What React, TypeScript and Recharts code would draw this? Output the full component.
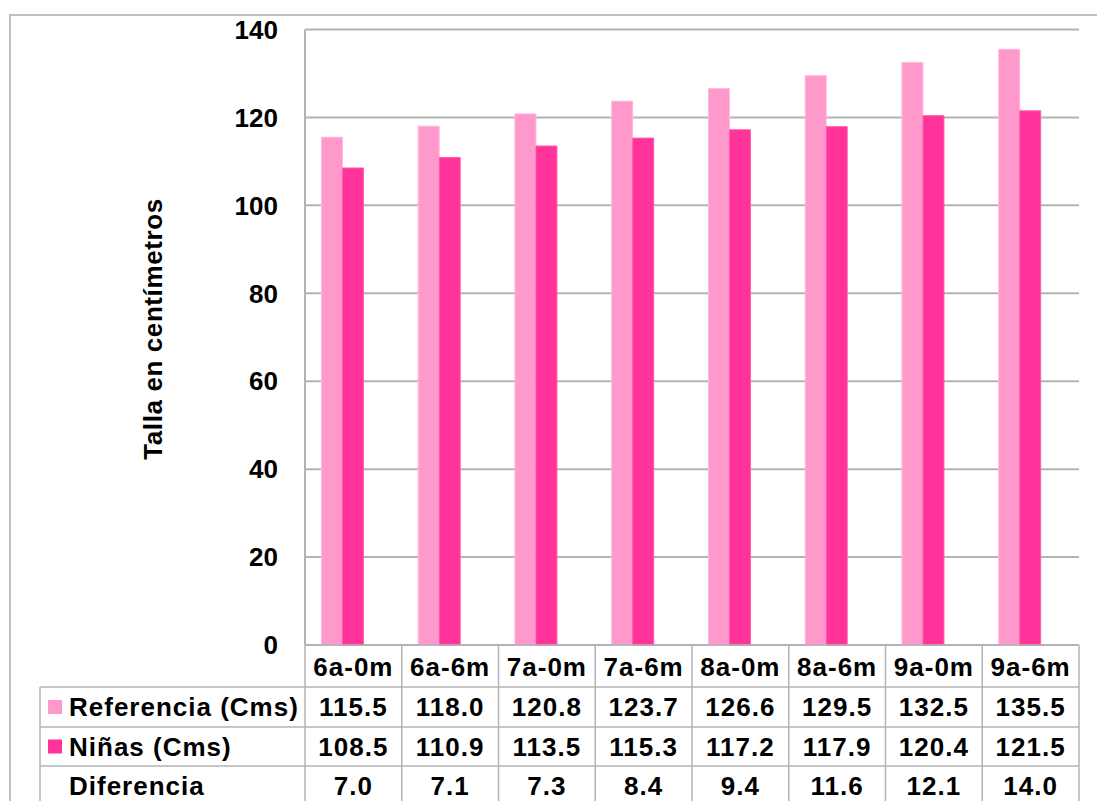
import React from 'react';
import { BarChart, Bar, XAxis, YAxis, CartesianGrid } from 'recharts';

const categories = ['6a-0m', '6a-6m', '7a-0m', '7a-6m', '8a-0m', '8a-6m', '9a-0m', '9a-6m'];
const referencia = [115.5, 118.0, 120.8, 123.7, 126.6, 129.5, 132.5, 135.5];
const ninas = [108.5, 110.9, 113.5, 115.3, 117.2, 117.9, 120.4, 121.5];
const diferencia = [7.0, 7.1, 7.3, 8.4, 9.4, 11.6, 12.1, 14.0];
const yTicks = [0, 20, 40, 60, 80, 100, 120, 140];
const rowLabels = ['Referencia (Cms)', 'Niñas (Cms)', 'Diferencia'];
const yLabel = 'Talla en centímetros';

const COLOR_REF = '#FF99CC';
const COLOR_NIN = '#FF3399';
const GRID = '#b3b3b3';
const FONT = '"Liberation Sans", Arial, sans-serif';

const data = categories.map((c, i) => ({
  cat: c,
  referenciaVal: referencia[i],
  ninasVal: ninas[i],
  difVal: diferencia[i],
}));

const rowValues = [referencia, ninas, diferencia];
const rowColors = [COLOR_REF, COLOR_NIN, null];

// row boundaries relative to axis line
const ROW_TOP = [0, 42, 82, 121, 161];

function TableTick(props: any) {
  const { x, y, payload, index } = props;
  const half = payload && typeof payload.offset === 'number' && payload.offset > 0 ? payload.offset : 48.4;
  const left = x - half;
  const right = x + half;
  const textStyle = { fontFamily: FONT, fontWeight: 700, fontSize: 26, fill: '#000', letterSpacing: 1 };
  const els: any[] = [];
  els.push(
    <text key="cat" x={x} y={y + 22} textAnchor="middle" dominantBaseline="central" style={textStyle}>
      {payload.value}
    </text>
  );
  rowValues.forEach((vals, r) => {
    const cy = (ROW_TOP[r + 1] + ROW_TOP[r + 2]) / 2;
    els.push(
      <text key={'v' + r} x={x} y={y + cy} textAnchor="middle" dominantBaseline="central" style={textStyle}>
        {vals[index].toFixed(1)}
      </text>
    );
  });
  [1, 2, 3].forEach((r) => {
    els.push(
      <line key={'h' + r} x1={left} x2={right} y1={y + ROW_TOP[r]} y2={y + ROW_TOP[r]} stroke={GRID} strokeWidth={1.5} />
    );
  });
  els.push(<line key="vr" x1={right} x2={right} y1={y} y2={y + 170} stroke={GRID} strokeWidth={1.5} />);
  if (index === 0) {
    const legLeft = left - 265;
    els.push(<line key="vl" x1={left} x2={left} y1={y} y2={y + 170} stroke={GRID} strokeWidth={1.5} />);
    els.push(
      <line key="lgl" x1={legLeft} x2={legLeft} y1={y + ROW_TOP[1]} y2={y + 170} stroke={GRID} strokeWidth={1.5} />
    );
    [1, 2, 3].forEach((r) => {
      els.push(
        <line key={'lh' + r} x1={legLeft} x2={left} y1={y + ROW_TOP[r]} y2={y + ROW_TOP[r]} stroke={GRID} strokeWidth={1.5} />
      );
    });
    rowLabels.forEach((lab, r) => {
      const cy = (ROW_TOP[r + 1] + ROW_TOP[r + 2]) / 2;
      const col = rowColors[r];
      if (col) {
        els.push(<rect key={'m' + r} x={legLeft + 8} y={y + cy - 7} width={14} height={14} fill={col} />);
      }
      els.push(
        <text key={'l' + r} x={legLeft + 29} y={y + cy} textAnchor="start" dominantBaseline="central" style={textStyle}>
          {lab}
        </text>
      );
    });
  }
  return <g>{els}</g>;
}

export default function App() {
  return (
    <div style={{ position: 'absolute', left: 0, top: 0, width: 1097, height: 801, overflow: 'hidden', background: '#fff' }}>
      <div
        style={{
          position: 'absolute',
          left: 9,
          top: 14,
          width: 1100,
          height: 900,
          border: '2px solid #c0c0c0',
          boxSizing: 'border-box',
        }}
      />
      <div style={{ position: 'absolute', left: 0, top: 0 }}>
        <BarChart
          width={1097}
          height={801}
          data={data}
          margin={{ top: 29.5, right: 18, bottom: 0, left: 245 }}
          barCategoryGap="17%"
          barGap={0}
        >
          <CartesianGrid horizontal vertical={false} stroke={GRID} strokeWidth={2} />
          <XAxis
            dataKey="cat"
            height={156}
            interval={0}
            tickSize={0}
            tickMargin={0}
            axisLine={{ stroke: GRID, strokeWidth: 1.5 }}
            tickLine={false}
            tick={<TableTick />}
          />
          <YAxis
            width={60}
            domain={[0, 140]}
            ticks={yTicks}
            tickSize={0}
            tickMargin={27}
            axisLine={{ stroke: GRID, strokeWidth: 2 }}
            tickLine={false}
            tick={{ fontFamily: FONT, fontWeight: 700, fontSize: 26, fill: '#000' }}
            label={{
              content: () => (
                <text
                  x={153}
                  y={329}
                  transform="rotate(-90 153 329)"
                  textAnchor="middle"
                  dominantBaseline="central"
                  style={{ fontFamily: FONT, fontWeight: 700, fontSize: 26, fill: '#000', letterSpacing: 0.6 }}
                >
                  {yLabel}
                </text>
              ),
            }}
          />
          <Bar dataKey="referenciaVal" name="Referencia (Cms)" fill={COLOR_REF} stroke="#FFB8DC" strokeWidth={1} isAnimationActive={false} />
          <Bar dataKey="ninasVal" name="Niñas (Cms)" fill={COLOR_NIN} stroke="#FF5CAD" strokeWidth={1} isAnimationActive={false} />
          <Bar dataKey="difVal" name="Diferencia" fill="transparent" stroke="none" isAnimationActive={false} />
        </BarChart>
      </div>
    </div>
  );
}
